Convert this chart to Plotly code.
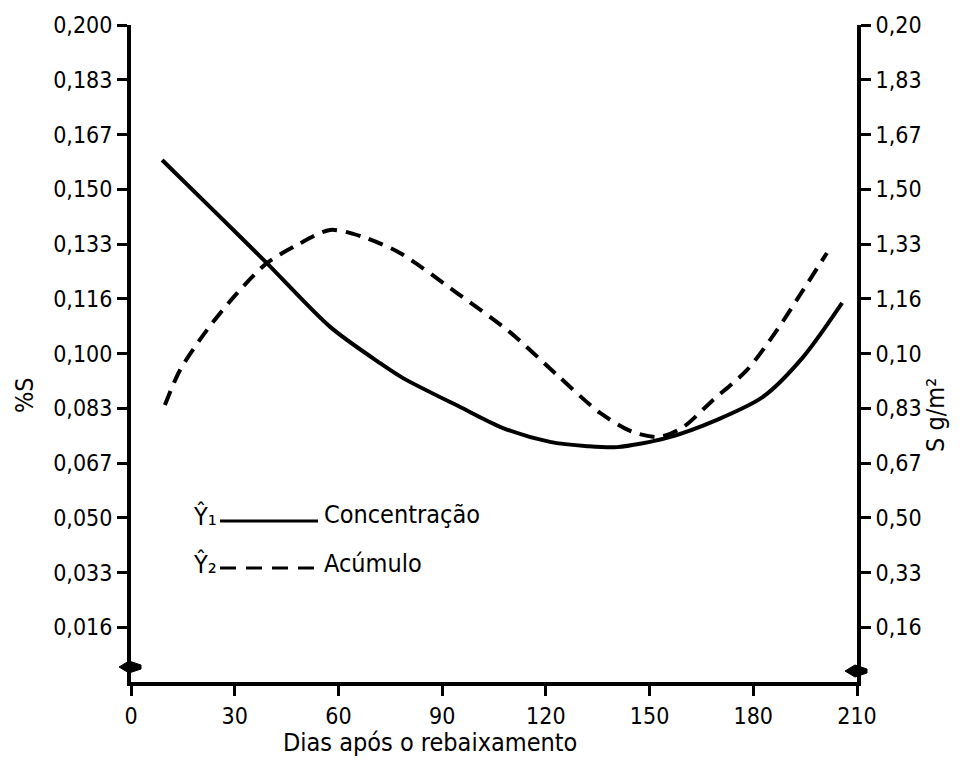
import plotly.graph_objects as go

# ---- data ----
days_conc = [9.0, 24.3, 39.3, 57.6, 72.0, 78.7, 95.2, 107.6, 121.2, 132.0, 140.6, 155.0, 169.5, 182.8, 194.4, 205.7]
conc_pct = [0.1589, 0.1431, 0.1275, 0.1081, 0.0971, 0.0925, 0.0837, 0.0773, 0.0731, 0.0718, 0.0715, 0.0743, 0.0798, 0.0868, 0.0989, 0.1154]

days_acum = [9.8, 14.2, 22.0, 30.7, 39.3, 48.0, 57.6, 67.1, 77.8, 94.3, 109.6, 123.2, 135.7, 145.2, 153.0, 159.7, 168.3, 178.2, 186.9, 194.4, 201.3]
acum_gm2 = [0.843, 0.950, 1.072, 1.184, 1.275, 1.330, 1.376, 1.355, 1.306, 1.184, 1.065, 0.935, 0.819, 0.761, 0.746, 0.776, 0.858, 0.950, 1.072, 1.193, 1.306]

x_ticks = [0, 30, 60, 90, 120, 150, 180, 210]
left_tickvals = [0.2 * k / 12 for k in range(1, 13)]
left_ticktext = ["0,016", "0,033", "0,050", "0,067", "0,083", "0,100",
                 "0,116", "0,133", "0,150", "0,167", "0,183", "0,200"]
right_tickvals = [2.0 * k / 12 for k in range(1, 13)]
right_ticktext = ["0,16", "0,33", "0,50", "0,67", "0,83", "0,10",
                  "1,16", "1,33", "1,50", "1,67", "1,83", "0,20"]

FONT = "DejaVu Sans Condensed, Liberation Sans Narrow, DejaVu Sans, sans-serif"

# plot-area geometry in pixels (for decorations only)
L, R, T, B = 131, 857, 25, 682
W, H = R - L, B - T
def px(X):
    return (X - L) / W
def py(Y):
    return (B - Y) / H

fig = go.Figure()
fig.add_trace(go.Scatter(x=days_conc, y=conc_pct, mode="lines", name="Concentração",
                         line=dict(color="black", width=4, shape="spline", smoothing=0.8),
                         showlegend=False))
fig.add_trace(go.Scatter(x=days_acum, y=acum_gm2, mode="lines", name="Acúmulo", yaxis="y2",
                         line=dict(color="black", width=4, dash="15px,9px", shape="spline", smoothing=0.8),
                         showlegend=False))

axis_common = dict(showline=True, linecolor="black", linewidth=4, ticks="outside",
                   ticklen=10, tickwidth=3, tickcolor="black", showgrid=False, zeroline=False,
                   tickfont=dict(family=FONT, size=23, color="black"))

fig.update_layout(
    width=967, height=765,
    margin=dict(l=L, r=967 - R, t=T, b=765 - B),
    paper_bgcolor="white", plot_bgcolor="white",
    xaxis=dict(range=[0, 210], tickvals=x_ticks, ticktext=[str(v) for v in x_ticks], **axis_common),
    yaxis=dict(range=[0, 0.2], tickvals=left_tickvals, ticktext=left_ticktext, **axis_common),
    yaxis2=dict(range=[0, 2.0], tickvals=right_tickvals, ticktext=right_ticktext,
                overlaying="y", side="right", **axis_common),
)

ann_font = dict(family=FONT, size=25, color="black")
annotations = [
    dict(x=px(430), y=py(742), text="Dias após o rebaixamento"),
    dict(x=px(24), y=py(395), text="%S", textangle=-90),
    dict(x=px(935), y=py(415), text="S g/m²", textangle=-90),
    dict(x=px(205), y=py(516), text="Ŷ₁"),
    dict(x=px(322), y=py(514), text="Concentração", xanchor="left"),
    dict(x=px(205), y=py(564), text="Ŷ₂"),
    dict(x=px(322), y=py(563), text="Acúmulo", xanchor="left"),
]
for a in annotations:
    a.setdefault("xanchor", "center")
    fig.add_annotation(xref="paper", yref="paper", showarrow=False, yanchor="middle",
                       font=ann_font, **a)

# legend line samples
fig.add_shape(type="line", xref="paper", yref="paper", x0=px(220), x1=px(318), y0=py(521), y1=py(521),
              line=dict(color="black", width=3))
fig.add_shape(type="line", xref="paper", yref="paper", x0=px(220), x1=px(318), y0=py(568), y1=py(568),
              line=dict(color="black", width=3, dash="16px,10px"))

# axis-break marks
for X, Yb in ((L, 667), (R, 671)):
    x0, y0 = px(X), py(Yb)
    dx, dy = 12 / W, 6 / H
    path = (f"M {x0 - dx} {y0} L {x0 - 2 / W} {y0 + dy} L {x0 + 10 / W} {y0 + 2 / H} "
            f"L {x0 + 10 / W} {y0 - 2 / H} L {x0 - 2 / W} {y0 - dy} Z")
    fig.add_shape(type="path", xref="paper", yref="paper", path=path,
                  fillcolor="black", line=dict(color="black", width=1))

fig.write_html("out.html")
